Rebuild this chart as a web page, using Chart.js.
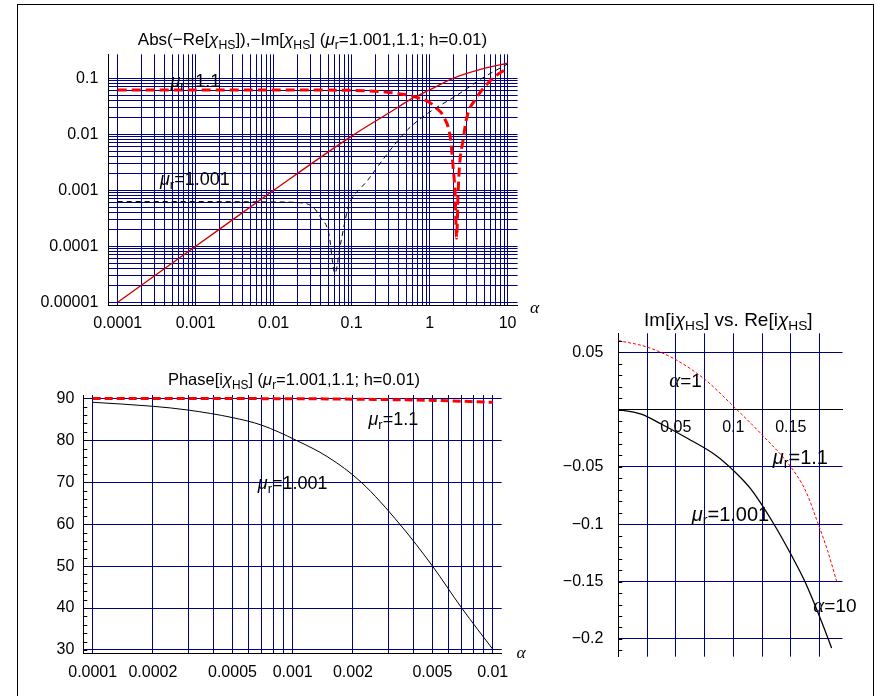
<!DOCTYPE html>
<html>
<head>
<meta charset="utf-8">
<script src="https://cdn.jsdelivr.net/npm/chart.js@4.4.1/dist/chart.umd.min.js"></script>
<style>
  html, body { margin: 0; padding: 0; background: #fff; }
  #wrap { position: relative; width: 876px; height: 696px; overflow: hidden; }
  #frame { position: absolute; left: 17px; top: 4px; width: 855px; height: 720px; border: 1px solid #000; }
  canvas { position: absolute; left: 0; top: 0; }
</style>
</head>
<body>
<div id="wrap">
  <div id="frame"></div>
  <canvas id="absChart" width="876" height="696"></canvas>
  <canvas id="phaseChart" width="876" height="696"></canvas>
  <canvas id="polarChart" width="876" height="696"></canvas>
</div>
<script>
// ---- panel 1 : Abs(-Re[chi]) and -Im[chi] against alpha (log-log)
const absImAlpha = [1e-4, 1e-3, 0.01, 0.1, 0.3, 0.64, 1, 2, 5, 10]
const absImValue = [1e-5, 1e-4, 1e-3, 0.0093, 0.024, 0.046, 0.062, 0.1, 0.15, 0.186]
const absRe11Alpha = [1e-4, 0.01, 0.1, 0.3, 0.64, 1, 1.2, 1.5, 1.86, 2.0, 2.12, 2.22, 2.32, 2.41, 2.69, 3.0, 4.0, 5.1, 7, 10]
const absRe11Value = [0.062, 0.062, 0.061, 0.056, 0.047, 0.037, 0.030, 0.021, 0.008, 0.0026, 0.0009, 0.00014, 0.0009, 0.0026, 0.008, 0.02, 0.045, 0.071, 0.11, 0.15]
const absRe1001Alpha = [1e-4, 1e-3, 0.01, 0.022, 0.032, 0.04, 0.051, 0.061, 0.072, 0.092, 0.1, 0.16, 0.25, 0.52, 1, 2.1, 5.1, 10]
const absRe1001Value = [6.3e-4, 6.3e-4, 6.2e-4, 6.0e-4, 5.0e-4, 3.3e-4, 1.7e-4, 3.3e-5, 1.1e-4, 5.5e-4, 7e-4, 1.5e-3, 3.5e-3, 0.012, 0.025, 0.047, 0.107, 0.18]
const absXLabels = ['0.0001', '0.001', '0.01', '0.1', '1', '10']
const absYLabels = ['0.00001', '0.0001', '0.001', '0.01', '0.1']

// ---- panel 2 : Phase[i chi] against alpha
const phaseAlpha1001 = [1e-4, 2e-4, 3e-4, 5e-4, 7e-4, 1.04e-3, 1.5e-3, 2.2e-3, 3.43e-3, 5e-3, 7e-3, 1e-2]
const phaseValue1001 = [89.05, 88.1, 87.2, 85.4, 83.6, 80, 76, 70, 60, 50, 40, 30.2]
const phaseAlpha11 = [1e-4, 1e-3, 2e-3, 5e-3, 1e-2]
const phaseValue11 = [89.97, 89.9, 89.8, 89.5, 89.05]
const phaseXLabels = ['0.0001', '0.0002', '0.0005', '0.001', '0.002', '0.005', '0.01']
const phaseYTicks = [30, 40, 50, 60, 70, 80, 90]

// ---- panel 3 : Im[i chi] against Re[i chi]
const polarRe1001 = [0, 0.02, 0.0377, 0.06, 0.085, 0.1, 0.115, 0.1354, 0.15, 0.1623, 0.1826, 0.1855]
const polarIm1001 = [0, -0.004, -0.0128, -0.025, -0.040, -0.053, -0.069, -0.1, -0.126, -0.15, -0.2, -0.208]
const polarRe11 = [0, 0.025, 0.05, 0.075, 0.1, 0.125, 0.15, 0.163, 0.1725, 0.182, 0.19]
const polarIm11 = [0.0602, 0.0545, 0.0435, 0.0265, 0.003, -0.022, -0.05, -0.071, -0.096, -0.123, -0.15]
const polarXGrid = [0.025, 0.05, 0.075, 0.1, 0.125, 0.15, 0.175]
const polarXLabels = ['0.05', '0.1', '0.15']
const polarYTicks = [-0.2, -0.15, -0.1, -0.05, 0.05]

const W = 876, H = 696
const GRID = 'rgb(0,0,128)'
const SANS = 'Liberation Sans'
const tickFont = { family: SANS, size: 16 }

// gridline positions k*10^n on a log axis
function logGrid(fromExp, toExp) {
  const out = []
  for (let n = fromExp; n < toExp; n++) {
    for (let k = 1; k <= 9; k++) out.push(k * Math.pow(10, n))
  }
  out.push(Math.pow(10, toExp))
  return out
}

const numOf = l => parseFloat(l.replace('−', '-'))
const pts = (xs, ys) => xs.map((x, i) => ({ x: x, y: ys[i] }))

// fixes axis size so the plot area lands exactly where we want it
function fixSize(prop, size) {
  return s => {
    s[prop] = size
    s.paddingLeft = 0; s.paddingRight = 0; s.paddingTop = 0; s.paddingBottom = 0
  }
}

// an axis that only draws grid lines (no labels, no size)
function gridAxis(type, min, max, values, prop, position) {
  return {
    type: type, min: min, max: max, position: position, weight: 0,
    afterBuildTicks: s => { s.ticks = values.map(v => ({ value: v })) },
    afterFit: fixSize(prop, 0),
    grid: { color: GRID, lineWidth: 1, drawTicks: false },
    border: { display: true, color: '#000', width: 1 },
    ticks: { display: false, autoSkip: false }
  }
}

// an axis that only draws tick labels
function labelAxis(type, min, max, labels, prop, size, pad, position) {
  return {
    type: type, min: min, max: max, position: position, weight: 1,
    afterBuildTicks: s => { s.ticks = labels.map(l => ({ value: numOf(l) })) },
    afterFit: fixSize(prop, size),
    grid: { display: false, drawTicks: false },
    border: { display: false },
    ticks: {
      autoSkip: false, maxRotation: 0, minRotation: 0, padding: pad, color: '#000', font: tickFont,
      callback: (v, i) => labels[i]
    }
  }
}

// text with italic greek letters and subscripts
function drawRich(ctx, parts, x, y, size, align) {
  const fontOf = k => {
    if (k === 'i') return `italic ${size}px "${SANS}"`
    if (k === 'a') return `italic ${size * 1.1}px "Liberation Serif"`
    if (k === 's') return `${size * 0.72}px "${SANS}"`
    return `${size}px "${SANS}"`
  }
  let total = 0
  const widths = parts.map(([t, k]) => { ctx.font = fontOf(k); const w = ctx.measureText(t).width; total += w; return w })
  let cx = align === 'center' ? x - total / 2 : x
  ctx.save()
  ctx.fillStyle = '#000'
  ctx.textBaseline = 'alphabetic'
  ctx.textAlign = 'left'
  parts.forEach(([t, k], i) => {
    ctx.font = fontOf(k)
    ctx.fillText(t, cx, k === 's' ? y + size * 0.22 : y)
    cx += widths[i]
  })
  ctx.restore()
}

const textPlugin = {
  id: 'richText',
  afterDraw(chart, args, opts) {
    const ctx = chart.ctx
    ;(opts.items || []).forEach(it => drawRich(ctx, it.parts, it.x, it.y, it.size, it.align))
    // small ticks on the inner side of the left axis
    if (opts.minor) {
      const ys = chart.scales.y
      const left = chart.chartArea.left
      ctx.save()
      ctx.strokeStyle = '#000'
      ctx.lineWidth = 1
      ctx.beginPath()
      for (let v = opts.minor.from; v <= opts.minor.to + 1e-9; v += opts.minor.step) {
        const py = Math.round(ys.getPixelForValue(v)) + 0.5
        ctx.moveTo(left, py)
        ctx.lineTo(left + 4, py)
      }
      ctx.stroke()
      ctx.restore()
    }
  }
}

const mu = (rest) => [['μ', 'i'], ['r', 's'], [rest, 'n']]
const chiHS = [['χ', 'i'], ['HS', 's']]

function lineSet(data, color, width, dash) {
  return {
    data: data, borderColor: color, borderWidth: width, borderDash: dash || [],
    pointRadius: 0, showLine: true, fill: false, cubicInterpolationMode: 'monotone'
  }
}

function padFor(area, yW, xH) {
  return { left: area.l - yW, top: area.t, right: W - area.r, bottom: H - area.b - xH }
}

const common = {
  responsive: false, animation: false, events: [],
  plugins: { legend: { display: false }, tooltip: { enabled: false } }
}

// ---------------- panel 1
const absArea = { l: 108.3, t: 54.3, r: 517.6, b: 305.7 }
const absX = [Math.pow(10, -4.1206), Math.pow(10, 1.1283)]
const absY = [Math.pow(10, -5.0607), Math.pow(10, -0.5714)]
new Chart(document.getElementById('absChart'), {
  type: 'scatter',
  data: {
    datasets: [
      lineSet(pts(absRe1001Alpha, absRe1001Value), '#000', 1, [5, 4]),
      lineSet(pts(absImAlpha, absImValue), 'rgb(210,0,0)', 1.4),
      lineSet(pts(absRe11Alpha, absRe11Value), 'rgb(255,0,0)', 3, [9, 5])
    ]
  },
  options: {
    ...common,
    layout: { padding: padFor(absArea, 100, 40) },
    scales: {
      x: gridAxis('logarithmic', absX[0], absX[1], logGrid(-4, 1), 'height', 'bottom'),
      xLab: labelAxis('logarithmic', absX[0], absX[1], absXLabels, 'height', 40, 8, 'bottom'),
      y: gridAxis('logarithmic', absY[0], absY[1], logGrid(-5, -1), 'width', 'left'),
      yLab: labelAxis('logarithmic', absY[0], absY[1], absYLabels, 'width', 100, 10, 'left')
    },
    plugins: {
      ...common.plugins,
      richText: {
        items: [
          { parts: [['Abs(−Re[', 'n'], ...chiHS, [']),−Im[', 'n'], ...chiHS, ['] (', 'n'], ...mu('=1.001,1.1; h=0.01)')], x: 312.5, y: 45, size: 17, align: 'center' },
          { parts: mu('=1.1'), x: 170.5, y: 86.5, size: 18 },
          { parts: mu('=1.001'), x: 160, y: 185, size: 18 },
          { parts: [['α', 'a']], x: 530, y: 313, size: 16 }
        ]
      }
    }
  },
  plugins: [textPlugin]
})

// ---------------- panel 2
const phaseArea = { l: 83.3, t: 395, r: 501.7, b: 653.3 }
const phaseX = [Math.pow(10, -4.047), Math.pow(10, -1.955)]
const phaseY = [29.21, 90.79]
new Chart(document.getElementById('phaseChart'), {
  type: 'scatter',
  data: {
    datasets: [
      lineSet(pts(phaseAlpha1001, phaseValue1001), '#000', 1),
      lineSet(pts(phaseAlpha11, phaseValue11), 'rgb(255,0,0)', 3, [8, 4])
    ]
  },
  options: {
    ...common,
    layout: { padding: padFor(phaseArea, 70, 40) },
    scales: {
      x: gridAxis('logarithmic', phaseX[0], phaseX[1], logGrid(-4, -2), 'height', 'bottom'),
      xLab: labelAxis('logarithmic', phaseX[0], phaseX[1], phaseXLabels, 'height', 40, 10, 'bottom'),
      y: gridAxis('linear', phaseY[0], phaseY[1], phaseYTicks, 'width', 'left'),
      yLab: labelAxis('linear', phaseY[0], phaseY[1], phaseYTicks.map(String), 'width', 70, 9, 'left')
    },
    plugins: {
      ...common.plugins,
      richText: {
        minor: { from: 30, to: 90, step: 2 },
        items: [
          { parts: [['Phase[i', 'n'], ...chiHS, ['] (', 'n'], ...mu('=1.001,1.1; h=0.01)')], x: 294, y: 385, size: 16.5, align: 'center' },
          { parts: mu('=1.1'), x: 368.5, y: 425, size: 18 },
          { parts: mu('=1.001'), x: 257.8, y: 489.3, size: 18 },
          { parts: [['α', 'a']], x: 516.5, y: 658, size: 16 }
        ]
      }
    }
  },
  plugins: [textPlugin]
})

// ---------------- panel 3
const polarArea = { l: 618.3, t: 333.3, r: 842.5, b: 656.7 }
const polarYLabels = polarYTicks.map(v => String(v).replace('-', '−'))
new Chart(document.getElementById('polarChart'), {
  type: 'scatter',
  data: {
    datasets: [
      lineSet(pts(polarRe1001, polarIm1001), '#000', 1.3),
      lineSet(pts(polarRe11, polarIm11), 'rgb(255,0,0)', 1, [3, 2])
    ]
  },
  options: {
    ...common,
    layout: { padding: padFor(polarArea, 70, 0) },
    scales: {
      x: {
        type: 'linear', min: 0, max: 0.195, position: { y: 0 },
        afterBuildTicks: s => { s.ticks = polarXGrid.map(v => ({ value: v })) },
        afterFit: fixSize('height', 30),
        grid: { color: GRID, lineWidth: 1, drawTicks: false },
        border: { display: true, color: '#000', width: 1 },
        ticks: {
          autoSkip: false, maxRotation: 0, minRotation: 0, padding: 8, color: '#000', font: tickFont,
          callback: v => polarXLabels.find(l => Math.abs(numOf(l) - v) < 1e-9) || ''
        }
      },
      y: gridAxis('linear', -0.2155, 0.0665, polarYTicks, 'width', 'left'),
      yLab: labelAxis('linear', -0.2155, 0.0665, polarYLabels, 'width', 70, 15, 'left')
    },
    plugins: {
      ...common.plugins,
      richText: {
        minor: { from: -0.21, to: 0.06, step: 0.01 },
        items: [
          { parts: [['Im[i', 'n'], ...chiHS, ['] vs. Re[i', 'n'], ...chiHS, [']', 'n']], x: 728.3, y: 326, size: 19, align: 'center' },
          { parts: [['α', 'a'], ['=1', 'n']], x: 669.3, y: 387.3, size: 19 },
          { parts: mu('=1.1'), x: 772.7, y: 464, size: 20 },
          { parts: mu('=1.001'), x: 691.7, y: 520.7, size: 20 },
          { parts: [['α', 'a'], ['=10', 'n']], x: 813.3, y: 611.7, size: 19 }
        ]
      }
    }
  },
  plugins: [textPlugin]
})
</script>
</body>
</html>
